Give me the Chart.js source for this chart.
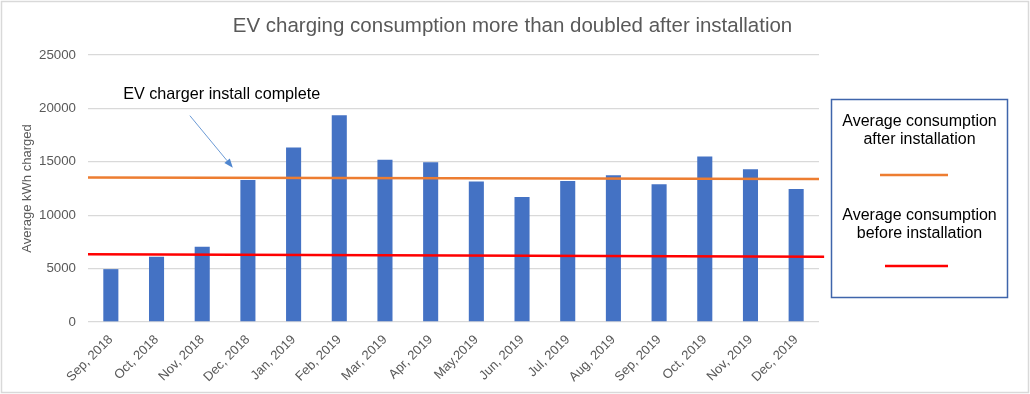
<!DOCTYPE html>
<html>
<head>
<meta charset="utf-8">
<script src="https://cdn.jsdelivr.net/npm/chart.js@4/dist/chart.umd.min.js"></script>
<style>
  html, body { margin: 0; padding: 0; background: #ffffff; }
  #wrap { width: 1030px; height: 394px; position: relative; }
</style>
</head>
<body>
<div id="wrap"><canvas id="c"></canvas></div>
<script>
// ---- data ----
const chartTitle = "EV charging consumption more than doubled after installation";
const yAxisTitle = "Average kWh charged";
const months = ["Sep, 2018", "Oct, 2018", "Nov, 2018", "Dec, 2018", "Jan, 2019", "Feb, 2019",
  "Mar, 2019", "Apr, 2019", "May,2019", "Jun, 2019", "Jul, 2019", "Aug, 2019",
  "Sep, 2019", "Oct, 2019", "Nov, 2019", "Dec, 2019"];
const kwhCharged = [4950, 6100, 7050, 13300, 16350, 19350, 15200, 14950, 13150, 11700,
  13200, 13750, 12900, 15500, 14300, 12450];
const afterLabel = ["Average consumption", "after installation"];
const beforeLabel = ["Average consumption", "before installation"];
// average lines: start / end values (x in fraction of plot width)
const afterLineX = [0, 1];
const afterLineY = [13530, 13380];
const beforeLineX = [0, 1.007];
const beforeLineY = [6350, 6120];
const yTicks = [0, 5000, 10000, 15000, 20000, 25000];
// annotation (category index, value)
const noteText = "EV charger install complete";
const notePos = [0.27, 21300];
const arrowFrom = [1.73, 19320];
const arrowTo = [2.67, 14450];

const FONT = '"Liberation Sans", Arial, sans-serif';
const GREY = '#595959';

const decorPlugin = {
  id: 'decor',
  beforeDraw(chart) {
    const ctx = chart.ctx;
    ctx.save();
    ctx.fillStyle = '#ffffff';
    ctx.fillRect(0, 0, chart.width, chart.height);
    ctx.strokeStyle = '#d9d9d9';
    ctx.lineWidth = 1.5;
    ctx.strokeRect(1.5, 1.5, chart.width - 3, chart.height - 3);
    ctx.restore();
  },
  afterDraw(chart) {
    const ctx = chart.ctx;
    const x = chart.scales.x, y = chart.scales.y, ca = chart.chartArea;
    ctx.save();
    // title
    ctx.font = '20.5px ' + FONT;
    ctx.fillStyle = GREY;
    ctx.textAlign = 'center';
    ctx.textBaseline = 'alphabetic';
    ctx.fillText(chartTitle, 512.5, 32);

    // annotation text
    const px = v => x.getPixelForValue(0) + (x.getPixelForValue(1) - x.getPixelForValue(0)) * v;
    ctx.font = '16.2px ' + FONT;
    ctx.fillStyle = '#000000';
    ctx.textAlign = 'left';
    ctx.textBaseline = 'middle';
    ctx.fillText(noteText, px(notePos[0]), y.getPixelForValue(notePos[1]));

    // arrow
    const x1 = px(arrowFrom[0]), y1 = y.getPixelForValue(arrowFrom[1]);
    const x2 = px(arrowTo[0]), y2 = y.getPixelForValue(arrowTo[1]);
    const ang = Math.atan2(y2 - y1, x2 - x1);
    const hl = 9, hw = 3.5;
    ctx.strokeStyle = '#6c9bd6';
    ctx.fillStyle = '#4f86cf';
    ctx.lineWidth = 1;
    ctx.beginPath();
    ctx.moveTo(x1, y1);
    ctx.lineTo(x2 - Math.cos(ang) * hl, y2 - Math.sin(ang) * hl);
    ctx.stroke();
    ctx.beginPath();
    ctx.moveTo(x2, y2);
    ctx.lineTo(x2 - Math.cos(ang) * hl + Math.sin(ang) * hw, y2 - Math.sin(ang) * hl - Math.cos(ang) * hw);
    ctx.lineTo(x2 - Math.cos(ang) * hl - Math.sin(ang) * hw, y2 - Math.sin(ang) * hl + Math.cos(ang) * hw);
    ctx.closePath();
    ctx.fill();

    // legend box
    const bx = ca.right + 12.5, by = 99.5, bw = 176, bh = 198;
    ctx.strokeStyle = '#3f65ab';
    ctx.lineWidth = 1.5;
    ctx.strokeRect(bx, by, bw, bh);
    const cx = bx + bw / 2;
    const entries = [
      { lines: chart.data.datasets[1].legendLines, color: chart.data.datasets[1].borderColor, top: 122, seg: 175, x0: 880, x1: 948 },
      { lines: chart.data.datasets[2].legendLines, color: chart.data.datasets[2].borderColor, top: 216, seg: 266, x0: 885, x1: 948 }
    ];
    ctx.font = '16px ' + FONT;
    ctx.fillStyle = '#000000';
    ctx.textAlign = 'center';
    ctx.textBaseline = 'middle';
    entries.forEach(e => {
      e.lines.forEach((t, i) => ctx.fillText(t, cx, e.top + i * 18));
      ctx.strokeStyle = e.color;
      ctx.lineWidth = 2.5;
      ctx.beginPath();
      ctx.moveTo(e.x0, e.seg);
      ctx.lineTo(e.x1, e.seg);
      ctx.stroke();
    });
    ctx.restore();
  }
};

new Chart(document.getElementById('c'), {
  data: {
    labels: months,
    datasets: [
      {
        type: 'bar',
        label: yAxisTitle,
        data: kwhCharged,
        backgroundColor: '#4472c4',
        borderWidth: 0,
        grouped: false,
        categoryPercentage: 1,
        barPercentage: 0.33,
        order: 2
      },
      {
        type: 'line',
        label: afterLabel.join(' '),
        legendLines: afterLabel,
        xAxisID: 'x2',
        data: afterLineX.map((v, i) => ({ x: v, y: afterLineY[i] })),
        borderColor: '#ed7d31',
        borderWidth: 2.5,
        pointRadius: 0,
        clip: false,
        order: 1
      },
      {
        type: 'line',
        label: beforeLabel.join(' '),
        legendLines: beforeLabel,
        xAxisID: 'x2',
        data: beforeLineX.map((v, i) => ({ x: v, y: beforeLineY[i] })),
        borderColor: '#ff0000',
        borderWidth: 2.5,
        pointRadius: 0,
        clip: false,
        order: 0
      }
    ]
  },
  options: {
    responsive: true,
    maintainAspectRatio: false,
    animation: false,
    layout: { padding: { top: 55, right: 211, left: 0, bottom: 0 } },
    plugins: {
      legend: { display: false },
      tooltip: { enabled: false },
      title: { display: false }
    },
    scales: {
      x: {
        type: 'category',
        grid: { display: false },
        border: { display: false },
        ticks: {
          color: GREY,
          font: { family: FONT, size: 13 },
          minRotation: 45,
          maxRotation: 45,
          padding: 2,
          autoSkip: false
        },
        afterFit(s) { s.height = 72; }
      },
      x2: {
        type: 'linear',
        display: false,
        min: 0,
        max: 1
      },
      y: {
        min: 0,
        max: 25000,
        afterBuildTicks(s) { s.ticks = yTicks.map(v => ({ value: v })); },
        grid: { color: '#d9d9d9', lineWidth: 1.3, drawTicks: false },
        border: { display: false },
        ticks: {
          color: GREY,
          font: { family: FONT, size: 13.3 },
          padding: 12,
          callback: v => String(v)
        },
        title: {
          display: true,
          text: yAxisTitle,
          color: GREY,
          font: { family: FONT, size: 13 },
          padding: { top: 20, bottom: 0 }
        },
        afterFit(s) { s.width = 88; }
      }
    }
  },
  plugins: [decorPlugin]
});
</script>
</body>
</html>
